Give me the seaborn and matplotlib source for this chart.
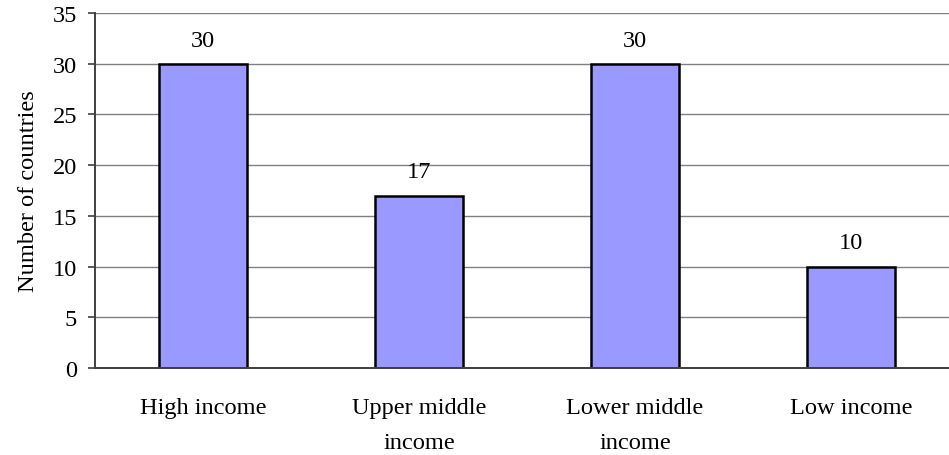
import matplotlib
matplotlib.use("Agg")
import matplotlib.pyplot as plt
import seaborn as sns
import pandas as pd
import numpy as np

# Countries per World Bank income group
groups = ["High income", "Upper middle\nincome", "Lower middle\nincome", "Low income"]
counts = [30, 17, 30, 10]
y_ticks = [0, 5, 10, 15, 20, 25, 30, 35]

sns.set_theme(style="white")
plt.rcParams["font.family"] = ["Liberation Serif", "DejaVu Serif"]
FS = 17.6
plt.rcParams["font.size"] = FS

df = pd.DataFrame({"group": groups, "count": counts})

fig = plt.figure(figsize=(9.49, 4.56), dpi=100)
# plot area runs past the right edge of the canvas
ax = fig.add_axes([95 / 949, 87 / 456, 864 / 949, 355 / 456])

sns.barplot(data=df, x="group", y="count", color="#9999FF", saturation=1,
            width=0.41, edgecolor="black", linewidth=1.8, ax=ax, zorder=3)

ax.set_ylim(0, 35)
ax.set_xlim(-0.5, len(groups) - 0.5)
ax.set_yticks(y_ticks)
ax.set_yticklabels([str(v) for v in y_ticks], fontsize=FS, color="black")
ax.yaxis.grid(True, color="#808080", linewidth=1.0, zorder=0)
ax.set_axisbelow(True)

# category labels at centres, tick marks at category boundaries
ax.set_xticks(np.arange(len(groups)))
ax.set_xticklabels(groups, fontsize=FS, color="black", linespacing=1.85, va="top")
ax.set_xticks(np.arange(len(groups) + 1) - 0.5, minor=True)
ax.tick_params(axis="x", which="major", length=0, pad=21)
ax.tick_params(axis="x", which="minor", length=5, width=1.2, color="#404040", direction="out")
ax.tick_params(axis="y", which="major", length=5, width=1.2, color="#404040",
               direction="out", pad=8, left=True)

for s in ["top", "right"]:
    ax.spines[s].set_visible(False)
for s in ["left", "bottom"]:
    ax.spines[s].set_color("#404040")
    ax.spines[s].set_linewidth(1.4)
    ax.spines[s].set_zorder(4)

ax.set_xlabel("")
ax.set_ylabel("Number of countries", fontsize=FS, color="black", labelpad=10)

for cont in ax.containers:
    ax.bar_label(cont, labels=[str(v) for v in counts], padding=9.5, fontsize=FS, color="black")

fig.savefig("out.png", dpi=100)
